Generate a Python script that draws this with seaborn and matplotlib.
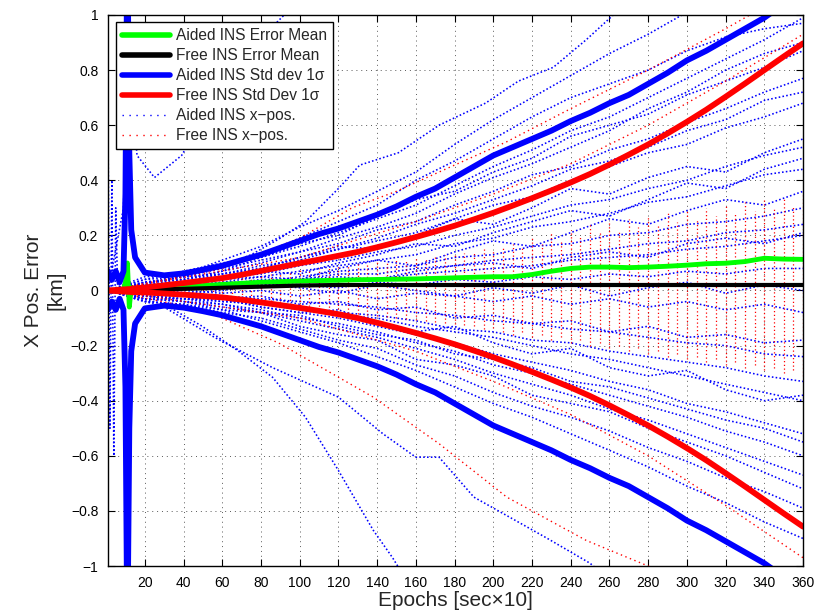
import numpy as np
import pandas as pd
import seaborn as sns
import matplotlib
matplotlib.use("Agg")
import matplotlib.pyplot as plt
from matplotlib.lines import Line2D

sns.set_style("ticks")
plt.rcParams['font.family'] = ['Liberation Sans', 'DejaVu Sans']

# ---- mean / std dev curves (epochs, km) ----
epochs = [1, 3, 5, 7, 9, 10, 11, 12, 13, 15,
          20, 30, 40, 50, 60, 70, 80, 90, 100, 110, 120, 130, 140, 150, 160, 170, 180,
          190, 200, 210, 220, 230, 240, 250, 260, 270, 280, 290, 300, 310, 320, 330, 340, 350, 360]
aided_std = [0.07, 0.04, 0.07, 0.03, 0.07, 0.35, 1.3, 0.5, 0.22, 0.12,
             0.065, 0.055, 0.062, 0.075, 0.09, 0.11, 0.13, 0.155, 0.18, 0.205, 0.225, 0.25, 0.275, 0.305, 0.34, 0.37, 0.41,
             0.45, 0.49, 0.52, 0.55, 0.58, 0.615, 0.645, 0.68, 0.71, 0.75, 0.79, 0.835, 0.87, 0.91, 0.95, 0.99, 1.04, 1.08]
free_std = [0.0, 0.001, 0.002, 0.003, 0.004, 0.004, 0.005, 0.005, 0.006, 0.007,
            0.009, 0.015, 0.021, 0.028, 0.035, 0.045, 0.057, 0.069, 0.081, 0.093, 0.106, 0.12, 0.137, 0.155, 0.174, 0.194, 0.215,
            0.238, 0.262, 0.288, 0.315, 0.343, 0.372, 0.403, 0.437, 0.473, 0.51, 0.55, 0.592, 0.636, 0.683, 0.731, 0.78, 0.829, 0.877]
aided_mean = [0.0, 0.0, 0.0, 0.0, 0.005, 0.03, 0.1, -0.06, 0.01, 0.005,
              0.003, 0.008, 0.015, 0.018, 0.022, 0.026, 0.03, 0.032, 0.034, 0.036, 0.037, 0.039, 0.04, 0.041, 0.042, 0.044, 0.046,
              0.048, 0.05, 0.05, 0.058, 0.07, 0.08, 0.085, 0.085, 0.083, 0.085, 0.088, 0.092, 0.097, 0.099, 0.105, 0.117, 0.114, 0.113]
free_mean = [0.0, 0.0, 0.0, 0.0, 0.0, 0.0, 0.0, 0.0, 0.0, 0.001,
             0.002, 0.004, 0.006, 0.008, 0.01, 0.012, 0.014, 0.016, 0.018, 0.019, 0.02, 0.02, 0.02, 0.02, 0.02, 0.02, 0.02,
             0.02, 0.02, 0.02, 0.02, 0.02, 0.02, 0.02, 0.02, 0.02, 0.02, 0.02, 0.02, 0.02, 0.02, 0.02, 0.02, 0.02, 0.02]

# ---- individual aided INS runs (sampled every 20 epochs) ----
run_epochs = [1, 20, 40, 60, 80, 100, 120, 140, 160, 180, 200, 220, 240, 260, 280, 300, 320, 340, 360]
aided_runs = [
    [0, 0.05, 0.06, 0.11, 0.16, 0.23, 0.29, 0.36, 0.43, 0.53, 0.62, 0.70, 0.78, 0.86, 0.93, 1.01, 1.08, 1.15, 1.22],
    [0, 0.04, 0.05, 0.09, 0.13, 0.19, 0.25, 0.31, 0.40, 0.47, 0.55, 0.63, 0.70, 0.75, 0.80, 0.87, 0.92, 0.95, 0.97],
    [0, 0.03, 0.04, 0.07, 0.10, 0.14, 0.19, 0.23, 0.28, 0.35, 0.41, 0.46, 0.52, 0.58, 0.66, 0.72, 0.80, 0.86, 0.90],
    [0, 0.03, 0.05, 0.06, 0.08, 0.12, 0.15, 0.19, 0.24, 0.28, 0.33, 0.38, 0.44, 0.47, 0.52, 0.58, 0.62, 0.69, 0.72],
    [0, 0.02, 0.03, 0.06, 0.08, 0.12, 0.16, 0.15, 0.20, 0.26, 0.24, 0.30, 0.37, 0.35, 0.41, 0.45, 0.43, 0.50, 0.55],
    [0, 0.01, 0.03, 0.04, 0.05, 0.07, 0.09, 0.11, 0.13, 0.17, 0.19, 0.23, 0.25, 0.28, 0.32, 0.34, 0.38, 0.42, 0.44],
    [0, 0.02, 0.01, 0.03, 0.05, 0.04, 0.08, 0.11, 0.09, 0.14, 0.18, 0.16, 0.21, 0.26, 0.24, 0.29, 0.33, 0.31, 0.36],
    [0, 0.01, 0.01, 0.02, 0.02, 0.03, 0.04, 0.04, 0.06, 0.07, 0.08, 0.09, 0.11, 0.12, 0.13, 0.15, 0.16, 0.18, 0.20],
    [0, 0.0, 0.01, 0.01, 0.02, 0.02, 0.01, 0.03, 0.02, 0.04, 0.03, 0.05, 0.04, 0.06, 0.05, 0.07, 0.06, 0.08, 0.08],
    [0, -0.01, 0.0, -0.01, 0.0, -0.02, 0.0, -0.03, -0.01, -0.02, -0.04, -0.02, -0.05, -0.03, -0.06, -0.04, -0.07, -0.05, -0.08],
    [0, -0.01, -0.02, -0.02, -0.03, -0.04, -0.05, -0.06, -0.08, -0.09, -0.11, -0.12, -0.14, -0.15, -0.17, -0.19, -0.20, -0.23, -0.24],
    [0, -0.02, -0.03, -0.03, -0.06, -0.08, -0.07, -0.12, -0.15, -0.13, -0.19, -0.23, -0.21, -0.28, -0.31, -0.29, -0.36, -0.40, -0.38],
    [0, -0.03, -0.03, -0.05, -0.07, -0.10, -0.12, -0.15, -0.19, -0.22, -0.27, -0.30, -0.34, -0.38, -0.42, -0.46, -0.51, -0.55, -0.60],
    [0, -0.03, -0.04, -0.07, -0.08, -0.13, -0.16, -0.18, -0.25, -0.27, -0.31, -0.38, -0.41, -0.44, -0.50, -0.55, -0.60, -0.66, -0.72],
    [0, -0.04, -0.05, -0.07, -0.11, -0.15, -0.19, -0.24, -0.29, -0.35, -0.41, -0.46, -0.52, -0.58, -0.64, -0.71, -0.77, -0.84, -0.90],
    [0, 0.02, 0.04, 0.06, 0.09, 0.11, 0.15, 0.18, 0.21, 0.26, 0.31, 0.34, 0.40, 0.45, 0.50, 0.53, 0.59, 0.63, 0.68],
    [0, -0.02, -0.03, -0.03, -0.06, -0.08, -0.10, -0.13, -0.16, -0.19, -0.23, -0.26, -0.29, -0.33, -0.36, -0.41, -0.44, -0.48, -0.52],
    [0, 0.03, 0.04, 0.07, 0.12, 0.16, 0.21, 0.26, 0.31, 0.38, 0.45, 0.51, 0.58, 0.63, 0.70, 0.77, 0.84, 0.91, 0.99],
    [0, -0.02, -0.04, -0.06, -0.08, -0.11, -0.14, -0.17, -0.21, -0.25, -0.30, -0.34, -0.38, -0.43, -0.47, -0.52, -0.57, -0.62, -0.67],
    [0, 0.01, 0.02, 0.03, 0.03, 0.05, 0.07, 0.08, 0.09, 0.12, 0.13, 0.16, 0.17, 0.20, 0.21, 0.24, 0.25, 0.27, 0.30],
    [0, 0.04, 0.07, 0.10, 0.12, 0.17, 0.20, 0.27, 0.33, 0.36, 0.43, 0.48, 0.56, 0.60, 0.64, 0.71, 0.76, 0.81, 0.87],
    [0, 0.02, 0.02, 0.05, 0.07, 0.06, 0.10, 0.13, 0.17, 0.16, 0.21, 0.25, 0.29, 0.27, 0.33, 0.39, 0.37, 0.44, 0.48],
    [0, -0.01, 0.01, 0.02, 0.01, 0.04, 0.05, 0.04, 0.07, 0.09, 0.10, 0.08, 0.12, 0.14, 0.12, 0.17, 0.19, 0.17, 0.21],
    [0, 0.01, -0.01, 0.0, 0.02, 0.01, -0.01, 0.02, 0.0, -0.02, 0.01, -0.01, 0.02, -0.02, 0.01, 0.03, -0.01, 0.02, 0.0],
    [0, -0.01, -0.01, -0.03, -0.02, -0.05, -0.04, -0.07, -0.06, -0.10, -0.09, -0.12, -0.11, -0.15, -0.13, -0.17, -0.16, -0.19, -0.18],
    [0, -0.02, -0.02, -0.04, -0.04, -0.06, -0.08, -0.09, -0.11, -0.14, -0.15, -0.18, -0.19, -0.22, -0.24, -0.26, -0.28, -0.31, -0.33],
    [0, -0.03, -0.04, -0.05, -0.08, -0.09, -0.13, -0.16, -0.18, -0.23, -0.25, -0.28, -0.33, -0.35, -0.39, -0.43, -0.47, -0.50, -0.55],
    [0, -0.04, -0.05, -0.08, -0.10, -0.14, -0.18, -0.21, -0.27, -0.31, -0.37, -0.42, -0.46, -0.51, -0.57, -0.62, -0.68, -0.73, -0.79],
    [0, 0.03, 0.05, 0.08, 0.11, 0.14, 0.17, 0.22, 0.25, 0.31, 0.36, 0.42, 0.45, 0.51, 0.55, 0.61, 0.66, 0.72, 0.77],
    [0, 0.02, 0.03, 0.05, 0.06, 0.09, 0.11, 0.14, 0.16, 0.20, 0.23, 0.27, 0.31, 0.33, 0.37, 0.40, 0.45, 0.49, 0.52],
    [0, -0.02, -0.03, -0.04, -0.05, -0.07, -0.09, -0.10, -0.13, -0.15, -0.17, -0.20, -0.23, -0.25, -0.28, -0.31, -0.34, -0.37, -0.40],
    [0, 0.01, 0.02, 0.02, 0.04, 0.04, 0.06, 0.06, 0.08, 0.09, 0.11, 0.12, 0.13, 0.15, 0.17, 0.18, 0.21, 0.22, 0.24],
]

# outlying aided runs, read at their own epochs
out1_x = [1, 9, 11, 16, 25, 39, 55, 75, 92, 100]
out1_y = [0, 0.3, 0.9, 0.49, 0.41, 0.49, 0.68, 0.88, 1.0, 1.06]
out2_x = [1, 40, 60, 75, 90, 103, 120, 131, 151, 172, 196, 213, 231, 248, 262, 280]
out2_y = [0, 0.05, 0.09, 0.13, 0.19, 0.25, 0.37, 0.455, 0.50, 0.60, 0.68, 0.76, 0.81, 0.91, 1.0, 1.08]
out3_x = [1, 30, 49, 68, 86, 103, 120, 138, 148, 155]
out3_y = [0, -0.05, -0.127, -0.218, -0.315, -0.46, -0.653, -0.87, -0.97, -1.05]
out4_x = [1, 30, 56, 86, 120, 143, 160, 172, 190, 207, 228, 250, 260]
out4_y = [0, -0.06, -0.17, -0.28, -0.387, -0.52, -0.605, -0.605, -0.75, -0.817, -0.9, -0.99, -1.05]
out5_x = [1, 2, 3, 4, 5, 6]
out5_y = [0.6, -0.5, 0.4, -0.6, 0.3, 0.0]

# ---- free INS runs ----
free1_x = [1, 60, 100, 127, 150, 172, 207, 240, 280, 320, 345]
free1_y = [0, 0.08, 0.19, 0.30, 0.36, 0.43, 0.54, 0.66, 0.80, 0.95, 1.05]
free2_x = [1, 50, 89, 138, 172, 207, 248, 280, 295]
free2_y = [0, -0.07, -0.19, -0.387, -0.556, -0.75, -0.907, -1.0, -1.05]
free3_x = [1, 100, 160, 200, 240, 280, 320, 360]
free3_y = [0, -0.1, -0.22, -0.33, -0.45, -0.6, -0.78, -0.97]
free4_x = [1, 100, 160, 200, 240, 280, 320, 360]
free4_y = [0, 0.12, 0.25, 0.35, 0.46, 0.60, 0.76, 0.93]

# vertical scatter of the free runs at each sampled epoch
stripe_x = [25, 30, 35, 40, 45, 50, 55, 60, 65, 70, 75, 80, 85, 90, 95, 100, 105, 110, 115, 120,
            125, 130, 135, 140, 145, 150, 155, 160, 165, 170, 175, 180, 185, 190, 195, 200, 205, 210,
            215, 220, 225, 230, 235, 240, 245, 250, 255, 260, 265, 270, 275, 280, 285, 290, 295, 300,
            305, 310, 315, 320, 325, 330, 335, 340, 345, 350, 355, 360]
stripe_top = [0.012, 0.015, 0.02, 0.022, 0.026, 0.03, 0.034, 0.038, 0.042, 0.046, 0.05, 0.055, 0.06, 0.065,
              0.07, 0.075, 0.072, 0.08, 0.085, 0.09, 0.088, 0.095, 0.10, 0.105, 0.10, 0.11, 0.115, 0.12,
              0.118, 0.125, 0.13, 0.128, 0.135, 0.14, 0.15, 0.145, 0.16, 0.17,
              0.16, 0.19, 0.17, 0.21, 0.18, 0.22, 0.2, 0.24, 0.21, 0.25, 0.22, 0.26, 0.23, 0.27, 0.24,
              0.28, 0.25, 0.29, 0.26, 0.3, 0.27, 0.31, 0.28, 0.32, 0.29, 0.33, 0.3, 0.34, 0.31, 0.35]
stripe_bot = [-0.01, -0.013, -0.016, -0.02, -0.023, -0.027, -0.03, -0.034, -0.038, -0.042, -0.046, -0.05,
              -0.054, -0.058, -0.062, -0.066, -0.07, -0.072, -0.076, -0.08, -0.083, -0.086, -0.09, -0.094,
              -0.097, -0.1, -0.104, -0.108, -0.11, -0.115, -0.118, -0.12, -0.125, -0.13, -0.14, -0.135,
              -0.15, -0.16,
              -0.15, -0.17, -0.16, -0.18, -0.17, -0.19, -0.18, -0.2, -0.19, -0.21, -0.2, -0.22, -0.21,
              -0.23, -0.22, -0.24, -0.23, -0.25, -0.24, -0.26, -0.25, -0.27, -0.26, -0.28, -0.27, -0.29,
              -0.28, -0.3, -0.29, -0.31]

fig = plt.figure(figsize=(8.17, 6.11), dpi=100)
ax = fig.add_axes([0.1322, 0.0736, 0.8507, 0.9019])

blue_kw = dict(linestyle=(0, (1, 1.4)), lw=1.15, estimator=None, sort=False, ax=ax, legend=False)
red_kw = dict(linestyle=(0, (1, 2.5)), lw=1.0, estimator=None, sort=False, ax=ax, legend=False)

for run in aided_runs:
    sns.lineplot(x=run_epochs, y=run, color='b', **blue_kw)
for xs, ys in [(out1_x, out1_y), (out2_x, out2_y), (out3_x, out3_y), (out4_x, out4_y), (out5_x, out5_y)]:
    sns.lineplot(x=xs, y=ys, color='b', **blue_kw)
for xs, ys in [(free1_x, free1_y), (free2_x, free2_y), (free3_x, free3_y), (free4_x, free4_y)]:
    sns.lineplot(x=xs, y=ys, color='r', **red_kw)
ax.vlines(stripe_x, stripe_bot, stripe_top, colors='r', linestyles=[(0, (1, 2))], lw=0.9)

df = pd.DataFrame({'epoch': epochs, 'aided_mean': aided_mean, 'free_mean': free_mean,
                   'aided_std': aided_std, 'free_std': free_std})
df['aided_up'] = df['aided_std']
df['aided_lo'] = -df['aided_std']
df['free_up'] = df['free_mean'] + df['free_std']
df['free_lo'] = df['free_mean'] - df['free_std']

line_kw = dict(estimator=None, sort=False, ax=ax, legend=False)
sns.lineplot(data=df, x='epoch', y='aided_mean', color=(0, 1, 0), lw=3.5, **line_kw)
sns.lineplot(data=df, x='epoch', y='free_mean', color='k', lw=3, **line_kw)
sns.lineplot(data=df, x='epoch', y='aided_up', color='b', lw=4.2, **line_kw)
sns.lineplot(data=df, x='epoch', y='aided_lo', color='b', lw=4.2, **line_kw)
sns.lineplot(data=df, x='epoch', y='free_up', color='r', lw=4.2, **line_kw)
sns.lineplot(data=df, x='epoch', y='free_lo', color='r', lw=4.2, **line_kw)

ax.set_xlim(1, 360)
ax.set_ylim(-1, 1)
ax.set_xticks(range(20, 361, 20))
ax.set_yticks([-1, -0.8, -0.6, -0.4, -0.2, 0, 0.2, 0.4, 0.6, 0.8, 1])
ax.set_yticklabels(['\u22121', '\u22120.8', '\u22120.6', '\u22120.4', '\u22120.2', '0',
                    '0.2', '0.4', '0.6', '0.8', '1'])
ax.tick_params(direction='in', top=True, right=True, length=5, width=0.8, labelsize=10,
               colors='k', pad=7)
ax.grid(True, linestyle=(0, (1, 4)), color='0.35', lw=0.7)
for sp in ax.spines.values():
    sp.set_color('k')
    sp.set_linewidth(1.0)

ax.set_xlabel('Epochs [sec\u00d710]', fontsize=15, labelpad=1)
ax.set_ylabel('X Pos. Error\n[km]', fontsize=15, labelpad=4)

handles = [
    Line2D([], [], color=(0, 1, 0), lw=4),
    Line2D([], [], color='k', lw=4),
    Line2D([], [], color='b', lw=4),
    Line2D([], [], color='r', lw=4),
    Line2D([], [], color='b', lw=1, linestyle=(0, (1, 4))),
    Line2D([], [], color='r', lw=1, linestyle=(0, (1, 4))),
]
labels = ['Aided INS Error Mean', 'Free INS Error Mean', 'Aided INS Std dev 1\u03c3',
          'Free INS Std Dev 1\u03c3', 'Aided INS x\u2212pos.', 'Free INS x\u2212pos.']
leg = ax.legend(handles, labels, loc='upper left', bbox_to_anchor=(0.0115, 0.987), borderaxespad=0,
                fontsize=11.2, fancybox=False, framealpha=1, edgecolor='k', handlelength=3.1,
                handletextpad=0.35, labelspacing=0.32, borderpad=0.4)
leg.get_frame().set_linewidth(1.0)

fig.savefig('out.png', dpi=100)
